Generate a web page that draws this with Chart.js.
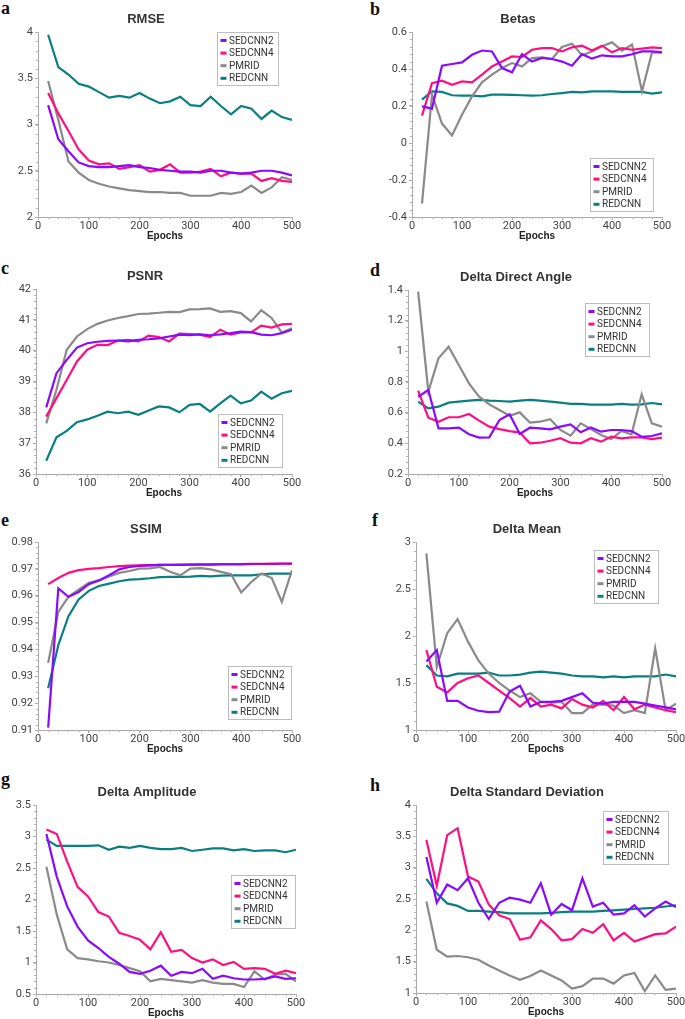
<!DOCTYPE html>
<html>
<head>
<meta charset="utf-8">
<script src="https://cdn.jsdelivr.net/npm/chart.js@4.4.1/dist/chart.umd.min.js"></script>
<style>
  body { margin: 0; width: 685px; height: 1019px; overflow: hidden; background: #fff; position: relative; }
  canvas { position: absolute; }
  .tag { position: absolute; font: bold 18px "Liberation Serif", "DejaVu Serif", serif; line-height: 19px; color: #111; }
</style>
</head>
<body>
<div class="tag" style="left:1px;top:-1px">a</div>
<div class="tag" style="left:370px;top:0px">b</div>
<div class="tag" style="left:1px;top:259px">c</div>
<div class="tag" style="left:370px;top:261px">d</div>
<div class="tag" style="left:1px;top:511px">e</div>
<div class="tag" style="left:372px;top:511px">f</div>
<div class="tag" style="left:1px;top:770px">g</div>
<div class="tag" style="left:370px;top:776px">h</div>
<script>
// epochs shared by every panel
const epochs = [20, 40, 60, 80, 100, 120, 140, 160, 180, 200, 220, 240, 260, 280, 300, 320, 340, 360, 380, 400, 420, 440, 460, 480, 500];
const xTicks = [0, 100, 200, 300, 400, 500];
const seriesNames = ['SEDCNN2', 'SEDCNN4', 'PMRID', 'REDCNN'];

// a - RMSE
const rmseSed2  = [3.21, 2.84, 2.71, 2.59, 2.55, 2.54, 2.54, 2.55, 2.56, 2.54, 2.53, 2.51, 2.50, 2.49, 2.49, 2.48, 2.50, 2.50, 2.48, 2.47, 2.48, 2.50, 2.50, 2.48, 2.45];
const rmseSed4  = [3.34, 3.12, 2.93, 2.73, 2.61, 2.57, 2.58, 2.52, 2.54, 2.56, 2.49, 2.51, 2.57, 2.48, 2.48, 2.49, 2.52, 2.44, 2.48, 2.47, 2.47, 2.39, 2.42, 2.39, 2.38];
const rmsePmrid = [3.47, 3.05, 2.60, 2.48, 2.40, 2.36, 2.33, 2.31, 2.29, 2.28, 2.27, 2.27, 2.26, 2.26, 2.23, 2.23, 2.23, 2.26, 2.25, 2.27, 2.34, 2.26, 2.32, 2.43, 2.40];
const rmseRed   = [3.97, 3.62, 3.54, 3.44, 3.41, 3.35, 3.29, 3.31, 3.29, 3.34, 3.28, 3.23, 3.25, 3.30, 3.21, 3.20, 3.30, 3.20, 3.11, 3.20, 3.17, 3.06, 3.15, 3.08, 3.05];
const rmseTicks = [2, 2.5, 3, 3.5, 4];

// b - Betas
const betaSed2  = [0.198, 0.186, 0.418, 0.427, 0.436, 0.477, 0.50, 0.495, 0.405, 0.382, 0.48, 0.44, 0.46, 0.454, 0.44, 0.418, 0.48, 0.456, 0.474, 0.468, 0.468, 0.48, 0.495, 0.495, 0.49];
const betaSed4  = [0.148, 0.324, 0.337, 0.315, 0.333, 0.328, 0.37, 0.414, 0.44, 0.468, 0.465, 0.504, 0.513, 0.513, 0.495, 0.517, 0.526, 0.50, 0.526, 0.49, 0.513, 0.504, 0.51, 0.517, 0.513];
const betaPmrid = [-0.328, 0.261, 0.105, 0.041, 0.153, 0.252, 0.328, 0.37, 0.405, 0.432, 0.414, 0.459, 0.463, 0.454, 0.519, 0.537, 0.474, 0.495, 0.523, 0.544, 0.499, 0.532, 0.279, 0.49, 0.49];
const betaRed   = [0.234, 0.279, 0.276, 0.258, 0.256, 0.256, 0.252, 0.261, 0.261, 0.26, 0.258, 0.256, 0.258, 0.265, 0.27, 0.276, 0.274, 0.279, 0.279, 0.279, 0.276, 0.276, 0.276, 0.267, 0.274];
const betaTicks = [-0.4, -0.2, 0, 0.2, 0.4, 0.6];

// c - PSNR
const psnrSed2  = [38.16, 39.27, 39.70, 40.10, 40.24, 40.29, 40.32, 40.33, 40.30, 40.35, 40.37, 40.40, 40.46, 40.52, 40.50, 40.53, 40.50, 40.53, 40.57, 40.62, 40.60, 40.52, 40.50, 40.57, 40.68];
const psnrSed4  = [37.86, 38.46, 39.05, 39.65, 40.03, 40.19, 40.18, 40.33, 40.35, 40.30, 40.49, 40.44, 40.30, 40.55, 40.54, 40.52, 40.44, 40.68, 40.52, 40.59, 40.59, 40.81, 40.75, 40.85, 40.87];
const psnrPmrid = [37.64, 38.73, 40.03, 40.46, 40.70, 40.87, 40.98, 41.06, 41.12, 41.19, 41.20, 41.23, 41.26, 41.25, 41.34, 41.35, 41.37, 41.26, 41.28, 41.22, 40.95, 41.31, 41.06, 40.59, 40.73];
const psnrRed   = [36.43, 37.19, 37.40, 37.68, 37.77, 37.89, 38.02, 37.97, 38.02, 37.92, 38.06, 38.19, 38.16, 38.00, 38.24, 38.27, 38.02, 38.29, 38.54, 38.29, 38.38, 38.67, 38.44, 38.62, 38.70];
const psnrTicks = [36, 37, 38, 39, 40, 41, 42];

// d - Delta Direct Angle
const angleSed2  = [0.704, 0.748, 0.498, 0.498, 0.502, 0.459, 0.437, 0.439, 0.552, 0.589, 0.461, 0.502, 0.498, 0.491, 0.509, 0.524, 0.472, 0.504, 0.476, 0.487, 0.487, 0.480, 0.443, 0.448, 0.465];
const angleSed4  = [0.743, 0.567, 0.541, 0.570, 0.570, 0.591, 0.548, 0.509, 0.493, 0.480, 0.470, 0.400, 0.404, 0.417, 0.433, 0.404, 0.400, 0.433, 0.411, 0.443, 0.433, 0.439, 0.439, 0.428, 0.437];
const anglePmrid = [1.39, 0.737, 0.954, 1.030, 0.911, 0.791, 0.704, 0.654, 0.617, 0.580, 0.602, 0.535, 0.541, 0.557, 0.487, 0.450, 0.530, 0.493, 0.454, 0.428, 0.480, 0.459, 0.720, 0.530, 0.509];
const angleRed   = [0.672, 0.628, 0.639, 0.665, 0.672, 0.678, 0.683, 0.678, 0.676, 0.672, 0.678, 0.683, 0.678, 0.672, 0.665, 0.657, 0.657, 0.652, 0.652, 0.652, 0.657, 0.652, 0.654, 0.663, 0.654];
const angleTicks = [0.2, 0.4, 0.6, 0.8, 1, 1.2, 1.4];

// e - SSIM
const ssimSed2  = [0.9109, 0.9627, 0.9596, 0.9614, 0.9643, 0.9657, 0.9676, 0.9698, 0.9707, 0.9711, 0.9713, 0.9715, 0.9715, 0.9715, 0.9716, 0.9716, 0.9716, 0.9717, 0.9717, 0.9717, 0.9718, 0.9718, 0.9718, 0.9719, 0.9719];
const ssimSed4  = [0.9643, 0.9666, 0.9685, 0.9695, 0.9700, 0.9703, 0.9707, 0.9710, 0.9712, 0.9713, 0.9714, 0.9715, 0.9715, 0.9716, 0.9716, 0.9717, 0.9717, 0.9718, 0.9718, 0.9718, 0.9719, 0.9719, 0.9720, 0.9720, 0.9720];
const ssimPmrid = [0.935, 0.954, 0.9596, 0.9623, 0.9648, 0.9657, 0.9672, 0.9685, 0.9692, 0.9701, 0.9702, 0.9707, 0.9689, 0.9676, 0.9701, 0.9703, 0.9698, 0.9689, 0.9680, 0.9612, 0.9651, 0.9683, 0.9666, 0.9577, 0.9695];
const ssimRed   = [0.9255, 0.9416, 0.9524, 0.9586, 0.9618, 0.9636, 0.9645, 0.9654, 0.9660, 0.9662, 0.9665, 0.9669, 0.9670, 0.9670, 0.9671, 0.9674, 0.9672, 0.9675, 0.9676, 0.9676, 0.9676, 0.9680, 0.9682, 0.9682, 0.9682];
const ssimTicks = [0.91, 0.92, 0.93, 0.94, 0.95, 0.96, 0.97, 0.98];

// f - Delta Mean
const meanSed2  = [1.73, 1.85, 1.31, 1.31, 1.24, 1.205, 1.19, 1.195, 1.41, 1.47, 1.25, 1.30, 1.30, 1.31, 1.35, 1.39, 1.29, 1.28, 1.30, 1.30, 1.30, 1.28, 1.26, 1.24, 1.22];
const meanSed4  = [1.85, 1.46, 1.40, 1.50, 1.55, 1.58, 1.50, 1.42, 1.34, 1.25, 1.34, 1.25, 1.27, 1.23, 1.33, 1.27, 1.24, 1.31, 1.21, 1.35, 1.22, 1.27, 1.24, 1.21, 1.19];
const meanPmrid = [2.88, 1.67, 2.03, 2.18, 1.94, 1.74, 1.60, 1.50, 1.42, 1.35, 1.39, 1.30, 1.29, 1.30, 1.18, 1.18, 1.27, 1.27, 1.26, 1.18, 1.21, 1.18, 1.87, 1.21, 1.28];
const meanRed   = [1.69, 1.58, 1.57, 1.60, 1.60, 1.60, 1.61, 1.58, 1.58, 1.59, 1.61, 1.62, 1.61, 1.60, 1.58, 1.57, 1.57, 1.56, 1.57, 1.56, 1.57, 1.57, 1.57, 1.59, 1.57];
const meanTicks = [1, 1.5, 2, 2.5, 3];

// g - Delta Amplitude
const ampSed2  = [3.04, 2.36, 1.89, 1.57, 1.35, 1.23, 1.09, 0.98, 0.85, 0.82, 0.87, 0.95, 0.79, 0.85, 0.83, 0.90, 0.74, 0.79, 0.75, 0.73, 0.73, 0.74, 0.78, 0.74, 0.75];
const ampSed4  = [3.11, 3.04, 2.60, 2.20, 2.05, 1.80, 1.73, 1.47, 1.42, 1.36, 1.21, 1.48, 1.17, 1.20, 1.07, 1.00, 1.05, 0.96, 1.01, 0.90, 0.91, 0.90, 0.82, 0.87, 0.83];
const ampPmrid = [2.52, 1.76, 1.21, 1.07, 1.05, 1.02, 1.00, 0.96, 0.91, 0.86, 0.70, 0.74, 0.72, 0.70, 0.68, 0.72, 0.68, 0.66, 0.66, 0.61, 0.86, 0.73, 0.81, 0.82, 0.70];
const ampRed   = [2.95, 2.85, 2.85, 2.85, 2.85, 2.86, 2.79, 2.84, 2.82, 2.85, 2.82, 2.80, 2.80, 2.82, 2.77, 2.79, 2.81, 2.81, 2.78, 2.80, 2.77, 2.78, 2.78, 2.75, 2.79];
const ampTicks = [0.5, 1, 1.5, 2, 2.5, 3, 3.5];

// h - Delta Standard Deviation
const stdSed2  = [3.17, 2.44, 2.73, 2.64, 2.83, 2.44, 2.18, 2.44, 2.52, 2.49, 2.44, 2.75, 2.25, 2.42, 2.32, 2.83, 2.38, 2.44, 2.25, 2.27, 2.40, 2.22, 2.35, 2.46, 2.37];
const stdSed4  = [3.44, 2.71, 3.52, 3.63, 2.86, 2.78, 2.41, 2.24, 2.18, 1.85, 1.89, 2.16, 2.02, 1.84, 1.86, 2.02, 1.96, 2.10, 1.84, 1.96, 1.82, 1.88, 1.94, 1.95, 2.06];
const stdPmrid = [2.46, 1.69, 1.58, 1.59, 1.57, 1.53, 1.44, 1.36, 1.28, 1.21, 1.27, 1.36, 1.28, 1.20, 1.07, 1.11, 1.23, 1.23, 1.15, 1.28, 1.32, 1.03, 1.28, 1.05, 1.07];
const stdRed   = [2.82, 2.59, 2.43, 2.39, 2.31, 2.31, 2.30, 2.29, 2.27, 2.27, 2.27, 2.27, 2.28, 2.29, 2.30, 2.30, 2.30, 2.31, 2.32, 2.33, 2.34, 2.35, 2.36, 2.38, 2.40];
const stdTicks = [1, 1.5, 2, 2.5, 3, 3.5, 4];

const lineColors = ['#8a0aff', '#ff0f80', '#8a8a8a', '#0a7f7f'];
const tickFont = { family: 'Roboto, "Liberation Sans", sans-serif', size: 11 };
const boldFont = '"Liberation Sans", Arial, sans-serif';

// small minor tick marks along both axes
const minorTicks = {
  id: 'minorTicks',
  afterDraw(chart, args, opts) {
    const ctx = chart.ctx, xs = chart.scales.x, ys = chart.scales.y;
    ctx.save();
    ctx.strokeStyle = '#b5b5b5';
    ctx.lineWidth = 1;
    ctx.beginPath();
    const nx = Math.round((xs.max - xs.min) / opts.x);
    for (let i = 0; i <= nx; i++) {
      const p = Math.round(xs.getPixelForValue(xs.min + i * opts.x)) + 0.5;
      ctx.moveTo(p, xs.top); ctx.lineTo(p, xs.top + 2);
    }
    const ny = Math.round((ys.max - ys.min) / opts.y);
    for (let i = 0; i <= ny; i++) {
      const p = Math.round(ys.getPixelForValue(ys.min + i * opts.y)) + 0.5;
      ctx.moveTo(ys.right - 2, p); ctx.lineTo(ys.right, p);
    }
    ctx.stroke();
    ctx.restore();
  }
};

// boxed legend placed inside the plot area
const boxLegend = {
  id: 'boxLegend',
  afterDraw(chart, args, opts) {
    const ctx = chart.ctx, area = chart.chartArea;
    const x = Math.round(area.left + opts.dx), y = Math.round(area.top + opts.dy);
    const w = opts.w, h = 53;
    ctx.save();
    ctx.fillStyle = '#fff';
    ctx.fillRect(x, y, w, h);
    ctx.strokeStyle = '#bdbdbd';
    ctx.lineWidth = 1;
    ctx.strokeRect(x + 0.5, y + 0.5, w, h);
    ctx.font = '10px Roboto, "Liberation Sans", sans-serif';
    ctx.textBaseline = 'middle';
    chart.data.datasets.forEach((ds, i) => {
      const ry = y + 8.5 + i * 12.6;
      ctx.strokeStyle = ds.borderColor;
      ctx.lineWidth = 3;
      ctx.beginPath(); ctx.moveTo(x + 3.5, ry); ctx.lineTo(x + 9.5, ry); ctx.stroke();
      ctx.fillStyle = '#333';
      ctx.fillText(ds.label, x + 12, ry + 0.5);
    });
    ctx.restore();
  }
};

const panels = [
  { title: 'RMSE', series: [rmseSed2, rmseSed4, rmsePmrid, rmseRed], yTicks: rmseTicks, minor: 0.1, box: [38, 32, 292, 217], legend: { dx: 179, dy: 0, w: 61 } },
  { title: 'Betas', series: [betaSed2, betaSed4, betaPmrid, betaRed], yTicks: betaTicks, minor: 0.04, box: [412, 32, 662, 217], legend: { dx: 178, dy: 126, w: 63 } },
  { title: 'PSNR', series: [psnrSed2, psnrSed4, psnrPmrid, psnrRed], yTicks: psnrTicks, minor: 0.2, box: [36, 289, 292, 474], legend: { dx: 182, dy: 125, w: 64 } },
  { title: 'Delta Direct Angle', series: [angleSed2, angleSed4, anglePmrid, angleRed], yTicks: angleTicks, minor: 0.04, box: [408, 290, 662, 474], legend: { dx: 177, dy: 13, w: 64 } },
  { title: 'SSIM', series: [ssimSed2, ssimSed4, ssimPmrid, ssimRed], yTicks: ssimTicks, minor: 0.002, box: [38, 542, 292, 730], legend: { dx: 190, dy: 124, w: 63 } },
  { title: 'Delta Mean', series: [meanSed2, meanSed4, meanPmrid, meanRed], yTicks: meanTicks, minor: 0.1, box: [416, 542, 676, 730], legend: { dx: 178, dy: 8, w: 64 } },
  { title: 'Delta Amplitude', series: [ampSed2, ampSed4, ampPmrid, ampRed], yTicks: ampTicks, minor: 0.1, box: [36, 805, 296, 994], legend: { dx: 195, dy: 70, w: 64 } },
  { title: 'Delta Standard Deviation', series: [stdSed2, stdSed4, stdPmrid, stdRed], yTicks: stdTicks, minor: 0.1, box: [416, 805, 676, 993], legend: { dx: 187, dy: 6, w: 65 } }
];

function fmt(v) { return String(+Number(v).toFixed(3)); }

panels.forEach(p => {
  const [L, T, R, B] = p.box;
  const canvas = document.createElement('canvas');
  canvas.width = 40 + (R - L) + 49;
  canvas.height = 30 + (B - T) + 32;
  canvas.style.left = (L - 40) + 'px';
  canvas.style.top = (T - 30) + 'px';
  document.body.appendChild(canvas);

  const ys = p.yTicks;
  new Chart(canvas.getContext('2d'), {
    type: 'line',
    data: {
      datasets: p.series.map((vals, i) => ({
        label: seriesNames[i],
        data: epochs.map((e, k) => ({ x: e, y: vals[k] })),
        borderColor: lineColors[i],
        borderWidth: 2.2,
        pointRadius: 0,
        tension: 0,
        fill: false
      }))
    },
    options: {
      responsive: false,
      animation: false,
      devicePixelRatio: 1,
      layout: { padding: { left: 2, top: 9.2, right: 49, bottom: 2 } },
      plugins: {
        legend: { display: false },
        tooltip: { enabled: false },
        title: {
          display: true, text: p.title, color: '#333',
          font: { family: boldFont, size: 13, weight: 'bold' },
          padding: { top: 0, bottom: 5.2 }
        },
        minorTicks: { x: 20, y: p.minor },
        boxLegend: p.legend
      },
      scales: {
        x: {
          type: 'linear', min: 0, max: 500,
          afterBuildTicks: s => { s.ticks = xTicks.map(v => ({ value: v })); },
          afterFit: s => { s.height = 30; },
          grid: { display: true, drawOnChartArea: false, drawTicks: true, tickLength: 3, color: '#aaa' },
          border: { color: '#aaa' },
          ticks: { padding: 0, font: tickFont, color: '#444', maxRotation: 0, autoSkip: false, callback: v => fmt(v) },
          title: { display: true, text: 'Epochs', color: '#222', font: { family: boldFont, size: 10, weight: 'bold' }, padding: { top: 0, bottom: 4.5 } }
        },
        y: {
          type: 'linear', min: ys[0], max: ys[ys.length - 1],
          afterBuildTicks: s => { s.ticks = ys.map(v => ({ value: v })); },
          afterFit: s => { s.width = 38; },
          grid: { display: true, drawOnChartArea: false, drawTicks: true, tickLength: 3, color: '#aaa' },
          border: { color: '#aaa' },
          ticks: { padding: 2, font: tickFont, color: '#444', autoSkip: false, callback: v => fmt(v) }
        }
      }
    },
    plugins: [minorTicks, boxLegend]
  });
});
</script>
</body>
</html>
